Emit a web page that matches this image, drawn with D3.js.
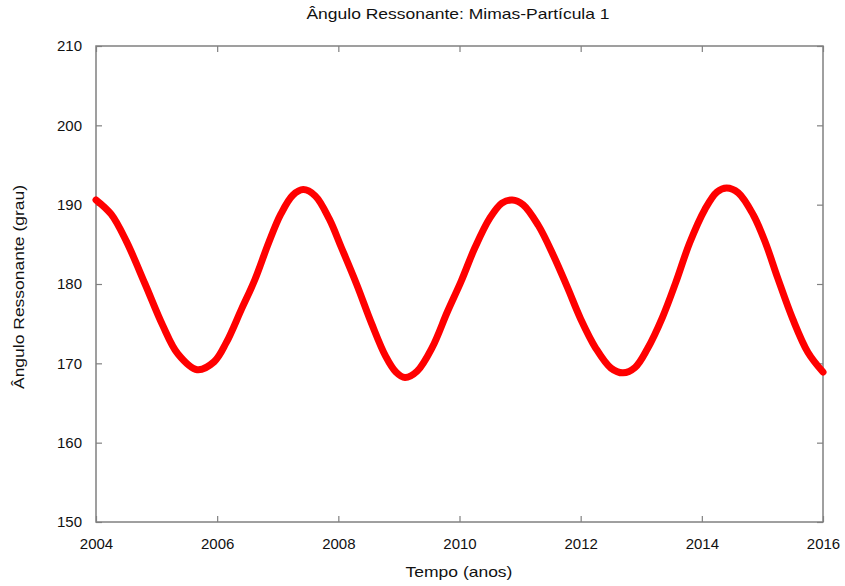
<!DOCTYPE html>
<html>
<head>
<meta charset="utf-8">
<script src="https://cdn.jsdelivr.net/npm/d3@7"></script>
<style>
  html, body { margin: 0; padding: 0; background: #fff; }
  svg { display: block; font-family: "Liberation Sans", Arial, sans-serif; }
</style>
</head>
<body>
<svg id="chart" width="845" height="586"></svg>
<script>
// Resonant angle of particle 1 with Mimas, sampled over time
const years = [2004.00,2004.25,2004.50,2004.81,2005.10,2005.35,2005.67,2005.95,2006.15,2006.40,2006.62,2006.85,2007.05,2007.25,2007.42,2007.62,2007.85,2008.05,2008.30,2008.55,2008.78,2008.95,2009.10,2009.30,2009.55,2009.80,2010.03,2010.25,2010.50,2010.70,2010.87,2011.05,2011.30,2011.55,2011.78,2012.00,2012.25,2012.50,2012.70,2012.90,2013.10,2013.35,2013.57,2013.80,2014.05,2014.25,2014.41,2014.60,2014.85,2015.05,2015.25,2015.50,2015.75,2016.00];
const angles = [190.6,188.8,185.4,180.0,174.8,171.2,169.2,170.2,172.6,176.8,180.5,185.2,188.8,191.2,191.9,191.1,188.2,184.6,180.0,175.0,170.9,168.9,168.2,169.0,172.0,176.5,180.4,184.5,188.3,190.2,190.6,190.0,187.4,183.6,179.6,175.6,171.9,169.4,168.8,169.5,171.8,175.8,180.2,185.2,189.4,191.6,192.1,191.5,188.7,185.2,180.8,175.6,171.4,168.9];
const xTicks = [2004, 2006, 2008, 2010, 2012, 2014, 2016];
const yTicks = [150, 160, 170, 180, 190, 200, 210];

const svg = d3.select("#chart");
const plotLeft = 96, plotRight = 823, plotTop = 46, plotBottom = 522;

const x = d3.scaleLinear().domain([2004, 2016]).range([plotLeft, plotRight]);
const y = d3.scaleLinear().domain([150, 210]).range([plotBottom, plotTop]);

const frameColor = "#808080";
const tickLen = 6;

// Mirrored ticks on all four sides, pointing inward
const axisStyle = g => {
  g.select(".domain").remove();
  g.selectAll(".tick line").attr("stroke", frameColor).attr("stroke-width", 1.2);
  g.selectAll(".tick text").attr("fill", "#111").style("font-size", "15px");
};

svg.append("g").attr("transform", `translate(0,${plotBottom})`)
  .call(d3.axisBottom(x).tickValues(xTicks).tickFormat(d3.format("d")).tickSizeInner(-tickLen).tickPadding(16))
  .call(axisStyle);
svg.append("g").attr("transform", `translate(0,${plotTop})`)
  .call(d3.axisTop(x).tickValues(xTicks).tickFormat("").tickSizeInner(-tickLen))
  .call(axisStyle);
svg.append("g").attr("transform", `translate(${plotLeft},0)`)
  .call(d3.axisLeft(y).tickValues(yTicks).tickFormat(d3.format("d")).tickSizeInner(-tickLen).tickPadding(14))
  .call(axisStyle);
svg.append("g").attr("transform", `translate(${plotRight},0)`)
  .call(d3.axisRight(y).tickValues(yTicks).tickFormat("").tickSizeInner(-tickLen))
  .call(axisStyle);

// Plot frame
svg.append("rect")
  .attr("x", plotLeft).attr("y", plotTop)
  .attr("width", plotRight - plotLeft).attr("height", plotBottom - plotTop)
  .attr("fill", "none").attr("stroke", frameColor).attr("stroke-width", 1.5);

// Series curve
const data = years.map((t, i) => ({ t, v: angles[i] }));
const line = d3.line().x(d => x(d.t)).y(d => y(d.v)).curve(d3.curveCatmullRom.alpha(0.5));
svg.append("path")
  .datum(data)
  .attr("d", line)
  .attr("fill", "none")
  .attr("stroke", "#ff0000")
  .attr("stroke-width", 7)
  .attr("stroke-linecap", "round")
  .attr("stroke-linejoin", "round");

// Titles (wide sans lettering)
const label = (tx, ty, rot, txt) => svg.append("text")
  .attr("transform", `translate(${tx},${ty}) rotate(${rot}) scale(1.25,1)`)
  .attr("text-anchor", "middle")
  .style("font-size", "14px").attr("fill", "#111")
  .text(txt);

label(458, 19, 0, "Ângulo Ressonante: Mimas-Partícula 1");
label(459, 577, 0, "Tempo (anos)");
label(24, 287, -90, "Ângulo Ressonante (grau)");
</script>
</body>
</html>
